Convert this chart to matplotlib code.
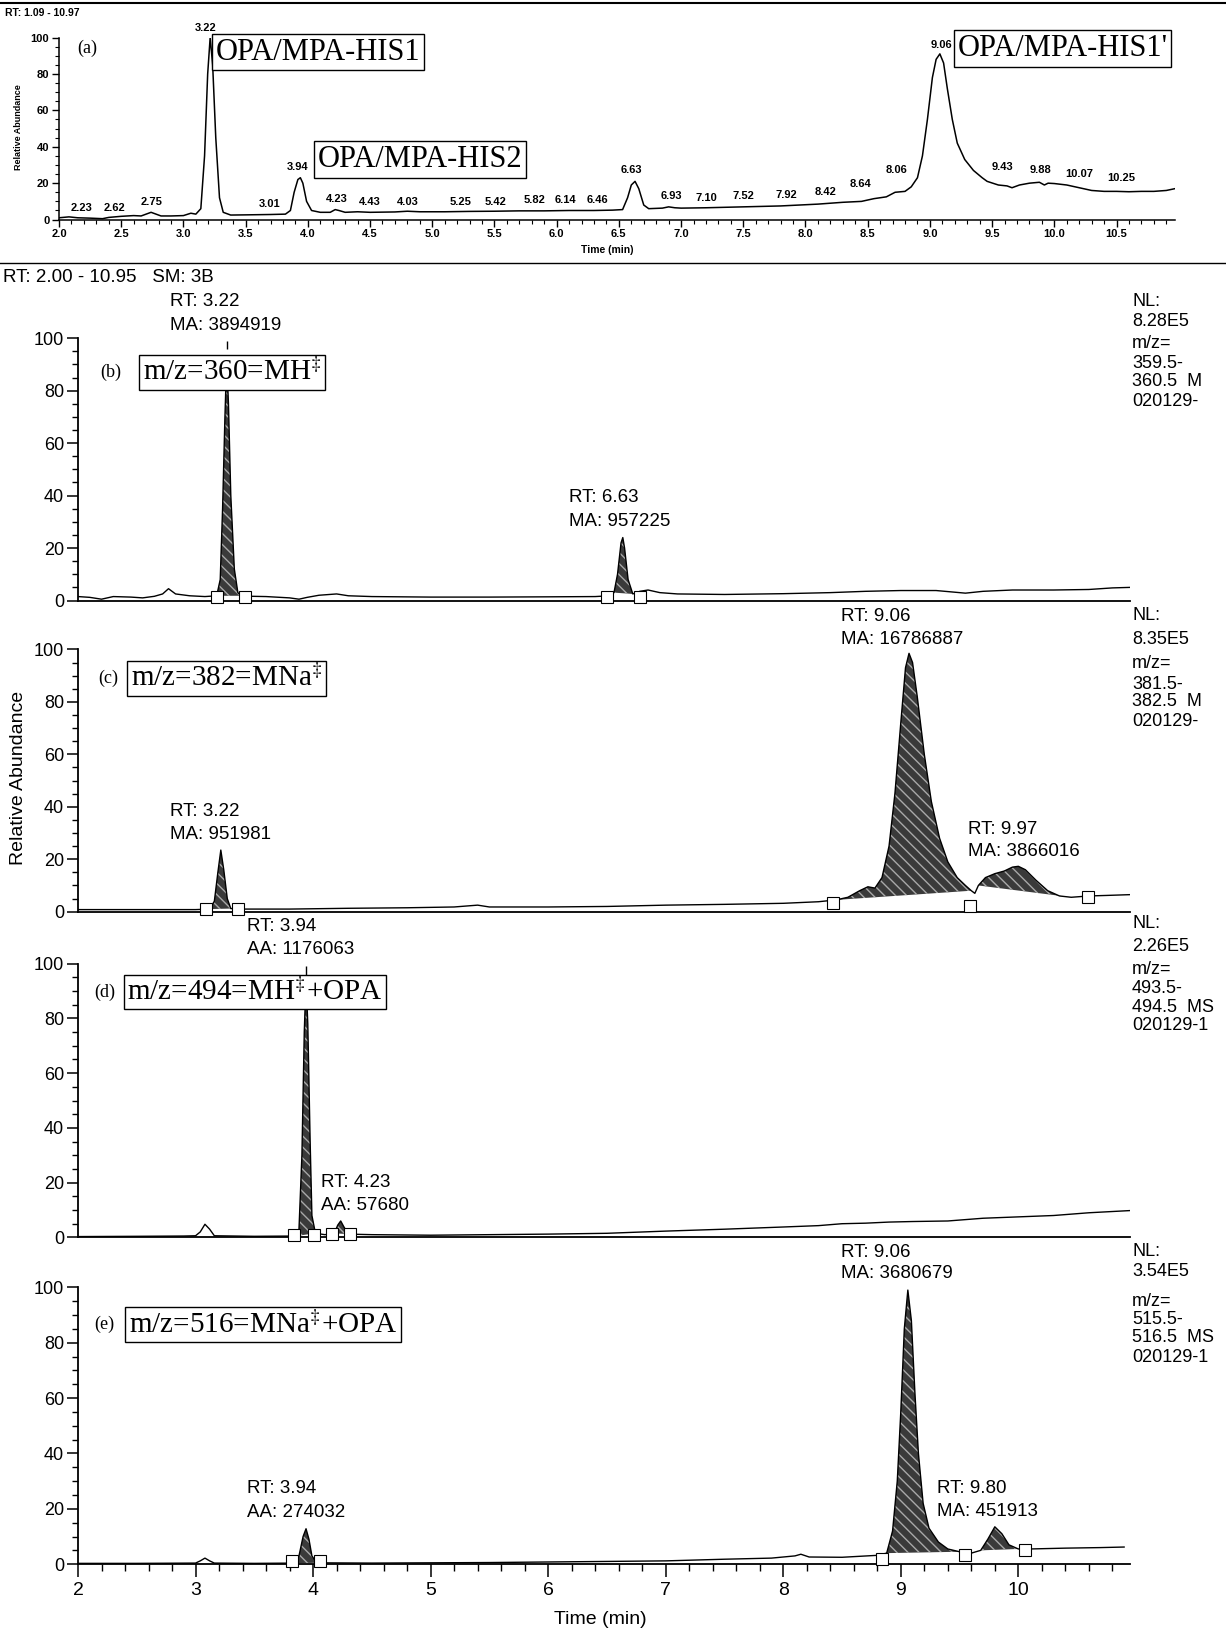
import numpy as np
import matplotlib
matplotlib.use("Agg")
import matplotlib.pyplot as plt
from matplotlib.ticker import MultipleLocator
from matplotlib.lines import Line2D

plt.rcParams['font.family'] = ['Liberation Sans', 'DejaVu Sans']
plt.rcParams['mathtext.fontset'] = 'stix'

W, H = 1226, 1632

# ---- data: (time min, relative abundance %) ----
trace_a = [(2.00, 1.0), (2.08, 1.5), (2.15, 1.0), (2.25, 0.8), (2.35, 0.5), (2.40, 1.2), (2.50, 1.8),
           (2.60, 2.2), (2.66, 2.0), (2.70, 3.0), (2.74, 4.0), (2.78, 3.0), (2.82, 2.0), (2.90, 2.0),
           (3.00, 2.2), (3.06, 3.5), (3.10, 3.0), (3.14, 6.0), (3.17, 35), (3.195, 80), (3.215, 100),
           (3.235, 85), (3.26, 45), (3.29, 12), (3.32, 4.0), (3.38, 2.5), (3.50, 2.6), (3.70, 2.8),
           (3.82, 3.0), (3.86, 5.0), (3.89, 15), (3.92, 22), (3.94, 23), (3.96, 20), (3.99, 10),
           (4.03, 5.0), (4.10, 4.0), (4.18, 4.0), (4.22, 5.5), (4.25, 5.0), (4.30, 4.0), (4.40, 4.3),
           (4.50, 4.0), (4.70, 4.2), (4.80, 4.6), (4.90, 4.3), (5.10, 4.3), (5.30, 4.5), (5.50, 4.6),
           (5.70, 4.8), (5.90, 4.8), (6.10, 5.0), (6.30, 5.0), (6.45, 5.2), (6.53, 5.5), (6.57, 12),
           (6.60, 19), (6.63, 21), (6.66, 17), (6.70, 8.0), (6.74, 6.0), (6.85, 6.3), (6.90, 7.0),
           (6.95, 6.5), (7.00, 6.3), (7.20, 6.5), (7.50, 7.0), (7.80, 7.5), (7.95, 8.0), (8.10, 8.5),
           (8.30, 9.5), (8.45, 10), (8.55, 11.5), (8.65, 12.5), (8.72, 15), (8.80, 15.5), (8.85, 18),
           (8.90, 23), (8.94, 35), (8.98, 55), (9.02, 78), (9.05, 88), (9.08, 91), (9.11, 86),
           (9.14, 72), (9.18, 55), (9.22, 42), (9.28, 33), (9.35, 27), (9.42, 23), (9.46, 21),
           (9.55, 19), (9.62, 18.5), (9.66, 17.5), (9.72, 19), (9.80, 20), (9.88, 20.5), (9.92, 19),
           (9.95, 20), (10.00, 19.8), (10.10, 19), (10.20, 17.5), (10.30, 16), (10.40, 15.5),
           (10.50, 15.5), (10.60, 15.3), (10.70, 15.5), (10.80, 15.5), (10.90, 16), (10.97, 17)]

labels_a = ["2.23", "2.62", "2.75", "3.22", "3.01", "3.94", "4.23", "4.43", "4.03", "5.25", "5.42",
            "5.82", "6.14", "6.46", "6.63", "6.93", "7.10", "7.52", "7.92", "8.42", "8.64", "8.06",
            "9.06", "9.43", "9.88", "10.07", "10.25"]
label_pos_a = [(2.18, 6.3), (2.45, 6.3), (2.74, 9.7), (3.18, 105), (3.69, 8.6), (3.92, 29),
               (4.23, 11.4), (4.50, 9.7), (4.80, 9.7), (5.23, 9.7), (5.51, 9.7), (5.82, 10.9),
               (6.07, 10.9), (6.33, 10.9), (6.60, 27), (6.92, 13), (7.20, 12), (7.50, 13),
               (7.85, 13.7), (8.16, 15.4), (8.44, 19.4), (8.73, 27), (9.09, 96), (9.58, 29),
               (9.89, 27), (10.20, 25), (10.54, 22.9)]
boxes_a = ["OPA/MPA-HIS1", "OPA/MPA-HIS2", "OPA/MPA-HIS1'"]
box_pos_a = [(3.26, 92), (4.08, 33), (9.22, 94)]

trace_b = [(2.00, 1.5), (2.10, 1.2), (2.20, 0.5), (2.30, 1.5), (2.45, 1.3), (2.55, 1.0), (2.65, 1.6),
           (2.72, 2.5), (2.77, 4.5), (2.83, 2.5), (2.95, 1.8), (3.08, 1.5), (3.18, 1.8), (3.21, 8),
           (3.23, 35), (3.25, 70), (3.265, 92), (3.28, 75), (3.30, 40), (3.33, 12), (3.36, 3),
           (3.39, 1.8), (3.48, 1.6), (3.60, 1.5), (3.80, 1.0), (3.88, 0.5), (3.95, 1.2), (4.05, 2.0),
           (4.20, 2.5), (4.30, 1.8), (4.50, 1.5), (5.00, 1.3), (5.50, 1.3), (6.00, 1.4), (6.40, 1.5),
           (6.52, 1.8), (6.56, 3), (6.59, 10), (6.62, 22), (6.635, 24), (6.65, 20), (6.68, 8),
           (6.72, 2.5), (6.78, 3.5), (6.85, 4.0), (6.95, 3.0), (7.10, 2.5), (7.50, 2.3), (8.00, 2.6),
           (8.40, 3.0), (8.70, 3.5), (9.00, 3.8), (9.30, 3.8), (9.55, 2.8), (9.70, 3.5), (9.95, 4.0),
           (10.30, 4.0), (10.60, 4.2), (10.80, 4.8), (10.95, 5.0)]

trace_c = [(2.00, 0.8), (2.50, 0.8), (3.00, 0.8), (3.12, 1.0), (3.16, 4), (3.19, 15), (3.215, 23.5),
           (3.24, 16), (3.27, 5), (3.30, 1.2), (3.40, 1.0), (3.80, 1.0), (4.30, 1.3), (4.80, 1.5),
           (5.20, 1.8), (5.40, 2.5), (5.50, 1.8), (6.00, 1.8), (6.50, 2.0), (7.00, 2.5), (7.50, 2.8),
           (8.00, 3.2), (8.30, 3.8), (8.45, 4.5), (8.55, 5.5), (8.65, 8), (8.72, 9.5), (8.78, 9),
           (8.84, 13), (8.90, 25), (8.95, 45), (9.00, 72), (9.04, 93), (9.07, 98.5), (9.10, 95),
           (9.14, 82), (9.20, 60), (9.26, 42), (9.33, 28), (9.40, 19), (9.48, 13), (9.55, 10),
           (9.60, 8), (9.63, 7), (9.66, 10), (9.72, 13), (9.80, 14.5), (9.88, 15.5), (9.95, 17),
           (10.00, 17.3), (10.06, 16), (10.15, 12), (10.25, 8), (10.35, 6), (10.45, 5.5),
           (10.60, 6), (10.75, 6.2), (10.95, 6.5)]

trace_d = [(2.00, 0.3), (2.50, 0.4), (2.90, 0.5), (3.00, 0.6), (3.04, 2), (3.08, 4.8), (3.12, 3),
           (3.16, 0.6), (3.50, 0.4), (3.85, 0.5), (3.88, 3), (3.905, 30), (3.925, 75), (3.94, 94),
           (3.955, 78), (3.975, 35), (3.99, 8), (4.02, 1.5), (4.10, 1.0), (4.18, 1.5), (4.21, 4.5),
           (4.235, 6), (4.26, 4), (4.30, 1.2), (4.50, 1.0), (5.00, 0.8), (5.50, 1.0), (6.00, 1.2),
           (6.50, 1.5), (7.00, 2.3), (7.50, 3.0), (8.00, 3.8), (8.30, 4.3), (8.50, 5.0), (8.70, 5.2),
           (8.90, 5.6), (9.10, 5.8), (9.40, 6.0), (9.70, 7.0), (10.00, 7.5), (10.30, 8.0),
           (10.60, 9.0), (10.95, 9.8)]

trace_e = [(2.00, 0.3), (2.50, 0.3), (3.00, 0.4), (3.04, 1.2), (3.08, 2.2), (3.12, 1.2), (3.16, 0.4),
           (3.50, 0.3), (3.84, 0.4), (3.88, 3), (3.915, 10), (3.94, 12.8), (3.965, 9), (3.99, 3),
           (4.03, 0.5), (4.50, 0.4), (5.00, 0.5), (5.50, 0.6), (6.00, 0.8), (6.50, 1.0), (7.00, 1.2),
           (7.50, 1.8), (7.90, 2.2), (8.10, 3.0), (8.15, 3.6), (8.22, 2.6), (8.50, 2.5), (8.80, 3.2),
           (8.88, 4), (8.93, 12), (8.97, 30), (9.00, 55), (9.03, 85), (9.06, 99), (9.09, 88),
           (9.12, 62), (9.15, 40), (9.19, 22), (9.24, 13), (9.32, 8), (9.40, 5.5), (9.50, 4.5),
           (9.60, 4.0), (9.68, 5), (9.74, 9), (9.80, 13.5), (9.86, 11), (9.92, 7), (10.00, 5.5),
           (10.10, 5.5), (10.40, 5.8), (10.70, 6.0), (10.90, 6.2)]

# integrated peak windows (start, end) and integration-limit markers
windows_b = [(3.18, 3.39), (6.55, 6.72)]
windows_c = [(3.12, 3.30), (8.45, 9.62), (9.64, 10.45)]
windows_d = [(3.85, 4.02), (4.18, 4.30)]
windows_e = [(3.84, 4.03), (8.88, 9.55), (9.62, 10.05)]
limits_b = [(3.18, 1.5), (3.42, 1.5), (6.50, 1.5), (6.78, 1.5)]
limits_c = [(3.09, 1.0), (3.36, 1.0), (8.42, 3.5), (9.59, 2.0), (10.59, 5.5)]
limits_d = [(3.84, 0.8), (4.01, 1.0), (4.16, 1.2), (4.31, 1.2)]
limits_e = [(3.82, 1.0), (4.06, 1.0), (8.84, 2.0), (9.55, 3.5), (10.06, 5.0)]

notes_b = [("RT: 3.22", "MA: 3894919"), ("RT: 6.63", "MA: 957225")]
notes_c = [("RT: 3.22", "MA: 951981"), ("RT: 9.06", "MA: 16786887"), ("RT: 9.97", "MA: 3866016")]
notes_d = [("RT: 3.94", "AA: 1176063"), ("RT: 4.23", "AA: 57680")]
notes_e = [("RT: 3.94", "AA: 274032"), ("RT: 9.06", "MA: 3680679"), ("RT: 9.80", "MA: 451913")]
note_pos_b = [(2.78, 113.9, 104.8), (6.18, 39.3, 30.2)]
note_pos_c = [(2.78, 38.1, 29.4), (8.49, 112.7, 103.6), (9.57, 31.3, 23.0)]
note_pos_d = [(3.44, 113.7, 105.3), (4.07, 20.2, 11.8)]
note_pos_e = [(3.44, 27.4, 18.8), (8.49, 112.4, 104.9), (9.31, 27.4, 19.2)]

nl_b = ["NL:", "8.28E5", "m/z=", "359.5-", "360.5  M", "020129-"]
nl_c = ["NL:", "8.35E5", "m/z=", "381.5-", "382.5  M", "020129-"]
nl_d = ["NL:", "2.26E5", "m/z=", "493.5-", "494.5  MS", "020129-1"]
nl_e = ["NL:", "3.54E5", "m/z=", "515.5-", "516.5  MS", "020129-1"]

ion_b = "m/z=360=MH$^{\\ddag}$"
ion_c = "m/z=382=MNa$^{\\ddag}$"
ion_d = "m/z=494=MH$^{\\ddag}$+OPA"
ion_e = "m/z=516=MNa$^{\\ddag}$+OPA"


def rect(left, right, top, bottom):
    return [left / W, 1 - bottom / H, (right - left) / W, (bottom - top) / H]


def figtext(x, y, s, **kw):
    fig.text(x / W, 1 - y / H, s, **kw)


def split(trace):
    t = np.array([p[0] for p in trace])
    v = np.array([p[1] for p in trace])
    return t, v


box_style = dict(boxstyle='square,pad=0.12', fc='white', ec='black', lw=1.0)

fig = plt.figure(figsize=(W / 100, H / 100), dpi=100)

# ---- panel (a): total ion chromatogram ----
ax = fig.add_axes(rect(59, 1175, 37.5, 219.6))
t, v = split(trace_a)
ax.plot(t, v, color='black', lw=1.1)
ax.set_xlim(2.0, 10.97)
ax.set_ylim(0, 100)
for s in ['top', 'right']:
    ax.spines[s].set_visible(False)
for s in ['left', 'bottom']:
    ax.spines[s].set_linewidth(1.1)
xt = np.arange(2.0, 10.51, 0.5)
ax.set_xticks(xt)
ax.set_xticklabels([f"{x:.1f}" for x in xt], fontsize=8, fontweight='bold')
yt = np.arange(0, 101, 20)
ax.set_yticks(yt)
ax.set_yticklabels([str(y) for y in yt], fontsize=8, fontweight='bold')
ax.xaxis.set_minor_locator(MultipleLocator(0.1))
ax.yaxis.set_minor_locator(MultipleLocator(5))
ax.tick_params(which='major', direction='out', length=5, width=1, pad=2)
ax.tick_params(which='minor', direction='out', length=3, width=0.8)
for s, (x, y) in zip(labels_a, label_pos_a):
    ax.text(x, y, s, fontsize=8, fontweight='bold', ha='center', va='center')
for s, (x, y) in zip(boxes_a, box_pos_a):
    ax.text(x, y, s, family='Liberation Serif', fontsize=22, ha='left', va='center',
            bbox=box_style, zorder=5)
ax.text(2.15, 94, "(a)", family='Liberation Serif', fontsize=13, ha='left', va='center')

figtext(5, 13, "RT: 1.09 - 10.97", fontsize=7.5, fontweight='bold', ha='left', va='center')
figtext(607, 250, "Time (min)", fontsize=7.5, fontweight='bold', ha='center', va='center')
figtext(19, 127, "Relative Abundance", fontsize=6.5, fontweight='bold', rotation=90,
        ha='center', va='center')

fig.add_artist(Line2D([0, 1], [1 - 3 / H, 1 - 3 / H], color='black', lw=1.5))
fig.add_artist(Line2D([0, 1], [1 - 263 / H, 1 - 263 / H], color='black', lw=1.0))

figtext(3, 277, "RT: 2.00 - 10.95   SM: 3B", fontsize=13.5, ha='left', va='center')


def panel(ax, trace, windows, limits, notes, note_pos, ion, letter, ion_x, ion_y, letter_x,
          nl, nl_y, apex=None, last=False):
    t, v = split(trace)
    for a, b in windows:
        m = (t >= a) & (t <= b)
        ax.fill(t[m], v[m], facecolor='#3a3a3a', edgecolor='#a8a8a8', hatch='\\\\\\',
                lw=0, zorder=2)
    ax.plot(t, v, color='black', lw=1.0, zorder=3)
    lx = [p[0] for p in limits]
    ly = [p[1] for p in limits]
    ax.plot(lx, ly, 's', ms=8, mfc='white', mec='black', mew=0.8, zorder=4, clip_on=False)
    ax.set_xlim(2.0, 10.95)
    ax.set_ylim(0, 100)
    for s in ['top', 'right']:
        ax.spines[s].set_visible(False)
    for s in ['left', 'bottom']:
        ax.spines[s].set_linewidth(1.3)
    yt = np.arange(0, 101, 20)
    ax.set_yticks(yt)
    ax.set_yticklabels([str(y) for y in yt], fontsize=13)
    ax.yaxis.set_minor_locator(MultipleLocator(5))
    ax.tick_params(axis='y', which='major', direction='out', length=8, width=1.1, pad=2)
    ax.tick_params(axis='y', which='minor', direction='out', length=4, width=1.0)
    if last:
        ax.set_xticks(np.arange(2, 11, 1))
        ax.set_xticklabels([str(x) for x in range(2, 11)], fontsize=14)
        ax.xaxis.set_minor_locator(MultipleLocator(0.2))
        ax.tick_params(axis='x', which='major', direction='out', length=9, width=1.1, pad=4)
        ax.tick_params(axis='x', which='minor', direction='out', length=5, width=1.0)
    else:
        ax.tick_params(axis='x', which='both', bottom=False, labelbottom=False)
    for (l1, l2), (x, y1, y2) in zip(notes, note_pos):
        ax.text(x, y1, l1, fontsize=13.5, ha='left', va='center')
        ax.text(x, y2, l2, fontsize=13.5, ha='left', va='center')
    if apex is not None:
        ax.vlines(apex, 96, 99, color='black', lw=1.0, clip_on=False)
    ax.text(ion_x, ion_y, ion, family='Liberation Serif', fontsize=21, ha='left', va='center',
            bbox=box_style, zorder=5)
    ax.text(letter_x, ion_y, letter, family='Liberation Serif', fontsize=13, ha='left',
            va='center')
    for s, y in zip(nl, nl_y):
        figtext(1132, y, s, fontsize=13, ha='left', va='center')


ax_b = fig.add_axes(rect(78, 1130, 338.2, 600.5))
panel(ax_b, trace_b, windows_b, limits_b, notes_b, note_pos_b, ion_b, "(b)", 2.55, 86.9, 2.19,
      nl_b, [301, 321, 344, 363, 382, 401], apex=3.265)

ax_c = fig.add_axes(rect(78, 1130, 649.4, 911.7))
panel(ax_c, trace_c, windows_c, limits_c, notes_c, note_pos_c, ion_c, "(c)", 2.45, 88.9, 2.17,
      nl_c, [616, 640, 664, 684, 702, 721])

ax_d = fig.add_axes(rect(78, 1130, 963.7, 1237.4))
panel(ax_d, trace_d, windows_d, limits_d, notes_d, note_pos_d, ion_d, "(d)", 2.42, 89.7, 2.14,
      nl_d, [924, 946, 970, 989, 1007, 1026], apex=3.94)

ax_e = fig.add_axes(rect(78, 1130, 1287.3, 1564.2))
panel(ax_e, trace_e, windows_e, limits_e, notes_e, note_pos_e, ion_e, "(e)", 2.43, 86.5, 2.14,
      nl_e, [1252, 1271, 1301, 1320, 1338, 1357], last=True)

figtext(19, 778, "Relative Abundance", fontsize=14, rotation=90, ha='center', va='center')
figtext(600, 1619, "Time (min)", fontsize=14, ha='center', va='center')

fig.savefig("out.png", dpi=100)
